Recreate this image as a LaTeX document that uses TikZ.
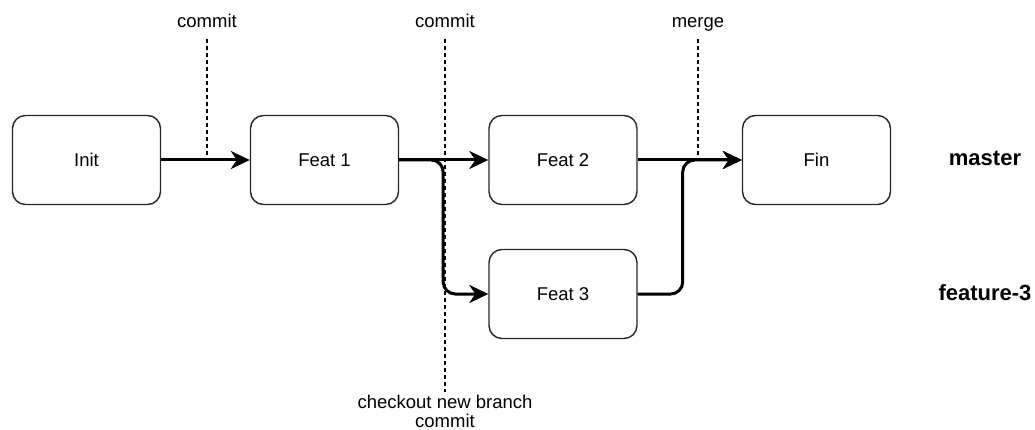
\documentclass[tikz,border=0pt]{standalone}
\usepackage{fontspec}
\setmainfont{Liberation Sans}
\usetikzlibrary{arrows.meta}
\begin{document}
\begin{tikzpicture}[x=1pt,y=-1pt,
  commitbox/.style={draw=black!85, line width=1.4pt, rounded corners=13pt,
    minimum width=148pt, minimum height=89pt, inner sep=0pt,
    font=\fontsize{18.5}{21}\selectfont},
  flow/.style={line width=3pt, rounded corners=12pt,
    -{Stealth[length=19pt,width=18pt,inset=6pt]}},
  marker/.style={line width=1.2pt, dash pattern=on 4pt off 3pt},
  note/.style={font=\fontsize{18.5}{19}\selectfont, inner sep=0pt, align=center, anchor=base},
  branchname/.style={font=\fontsize{22}{26}\selectfont\bfseries, inner sep=0pt}]
\useasboundingbox (0,0) rectangle (1035,430);

% commits
\node[commitbox] (init)  at (86.5,160) {Init};
\node[commitbox] (feat1) at (324.5,160) {Feat 1};
\node[commitbox] (feat2) at (563,160) {Feat 2};
\node[commitbox] (fin)   at (816.5,160) {Fin};
\node[commitbox] (feat3) at (563,294) {Feat 3};

% branch names
\node[branchname] (master)  at (985,158) {master};
\node[branchname] (feature) at (985,293) {feature-3};

% history edges
\draw[flow] (init.east) -- (feat1.west);
\draw[flow] (feat1.east) -- (feat2.west);
\draw[flow] (feat1.east) -- ++(44,0) |- (feat3.west);
\draw[flow] (feat3.east) -- ++(45,0) |- (fin.west);
\draw[flow] (feat2.east) -- (fin.west);

% operation markers
\node[note] (c1) at (207,28) {commit};
\node[note] (c2) at (445,28) {commit};
\node[note] (c3) at (445,427) {checkout new branch\\commit};
\node[note] (mg) at (698,28) {merge};

\draw[marker] ([yshift=-11pt]c1.base) -- (c1.base |- init.east);
\draw[marker] ([yshift=-11pt]c2.base) -- ([yshift=35pt]c3.base);
\draw[marker] ([yshift=-11pt]mg.base) -- (mg.base |- fin.west);
\end{tikzpicture}
\end{document}
